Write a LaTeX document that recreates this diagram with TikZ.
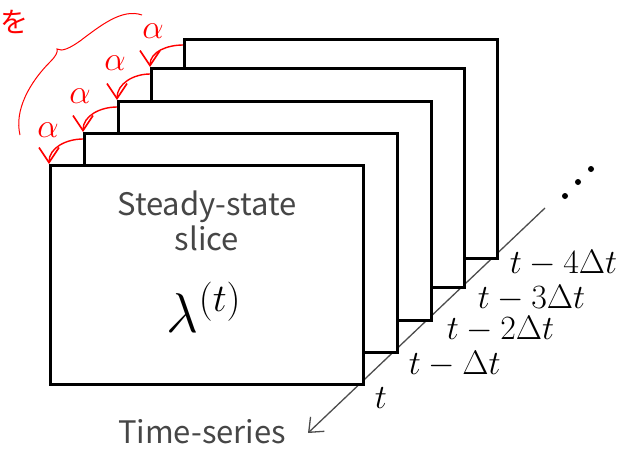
\RequirePackage{fix-cm}
\documentclass[tikz,border=0pt]{standalone}
\usepackage{fontspec}
\newfontfamily\jpfont{Noto Sans CJK JP}
\usetikzlibrary{arrows.meta}
\definecolor{textgray}{RGB}{70,70,70}
\begin{document}
\begin{tikzpicture}[x=1pt,y=-1pt,
    slicebox/.style={draw, line width=2.6pt, fill=white, anchor=north west,
        minimum width=313pt, minimum height=219pt, inner sep=0pt},
    steplbl/.style={anchor=base west, inner sep=0pt, font=\fontsize{34}{40}\selectfont},
    alpharrow/.style={red, line width=1.4pt,
        -{Straight Barb[length=15pt,width=20pt,line width=1.6pt]}},
    alphalbl/.style={red, inner sep=0pt, font=\fontsize{34}{36}\selectfont}]
    \useasboundingbox (0,0) rectangle (626,448);

    % time axis
    \coordinate (axtop) at (545,208);
    \coordinate (axend) at (308,433);
    \draw[black!70, line width=1.3pt, -{Straight Barb[length=12pt,width=20pt]}] (axtop) -- (axend);
    \fill (565,196) circle (3pt);
    \fill (578,182) circle (3pt);
    \fill (591,169) circle (3pt);

    % slices, back to front
    \node[slicebox] (s5) at (183,38) {};
    \node[slicebox] (s4) at (150,67) {};
    \node[slicebox] (s3) at (117,100) {};
    \node[slicebox] (s2) at (83,132) {};
    \node[slicebox] (s1) at (49,164) {};

    % front slice text
    \node[anchor=north, align=center, inner sep=0pt, textgray,
        font=\jpfont\fontsize{31}{35}\selectfont] (title) at (207,191) {Steady-state\\slice};
    \node[anchor=base, font=\fontsize{56}{60}\selectfont] (lam) at (204,332) {$\lambda^{(t)}$};

    % time stamps
    \node[steplbl] (l1) at ([shift={(10,23)}]s1.south east) {$t$};
    \node[steplbl] (l2) at ([shift={(10,21)}]s2.south east) {$t-\Delta t$};
    \node[steplbl] (l3) at ([shift={(14,18)}]s3.south east) {$t-2\Delta t$};
    \node[steplbl] (l4) at ([shift={(12,20)}]s4.south east) {$t-3\Delta t$};
    \node[steplbl] (l5) at ([shift={(11,14)}]s5.south east) {$t-4\Delta t$};
    \node[anchor=base, textgray, font=\jpfont\fontsize{31}{35}\selectfont] (ts) at (202,443) {Time-series};

    % alpha shifts
    \draw[alpharrow] ([yshift=-7pt]s2.north west) to[out=180,in=90] (s1.north west);
    \draw[alpharrow] ([yshift=-7pt]s3.north west) to[out=180,in=90] (s2.north west);
    \draw[alpharrow] ([yshift=-7pt]s4.north west) to[out=180,in=90] (s3.north west);
    \draw[alpharrow] ([yshift=-7pt]s5.north west) to[out=180,in=90] (s4.north west);
    \node[alphalbl] (a1) at ([shift={(-1,-34)}]s1.north west) {$\alpha$};
    \node[alphalbl] (a2) at ([shift={(-3,-36)}]s2.north west) {$\alpha$};
    \node[alphalbl] (a3) at ([shift={(-2,-37)}]s3.north west) {$\alpha$};
    \node[alphalbl] (a4) at ([shift={(3,-36)}]s4.north west) {$\alpha$};

    % brace
    \draw[red, line width=1pt] (20,135) .. controls (14,110) and (30,82) .. (50,62)
        .. controls (56,56) and (58,52) .. (57,49)
        .. controls (62,52) and (70,48) .. (80,41)
        .. controls (100,26) and (122,8) .. (142,15);
    \node[red, font=\jpfont\fontsize{28}{30}\selectfont] (wo) at (14,22) {を};
\end{tikzpicture}
\end{document}
